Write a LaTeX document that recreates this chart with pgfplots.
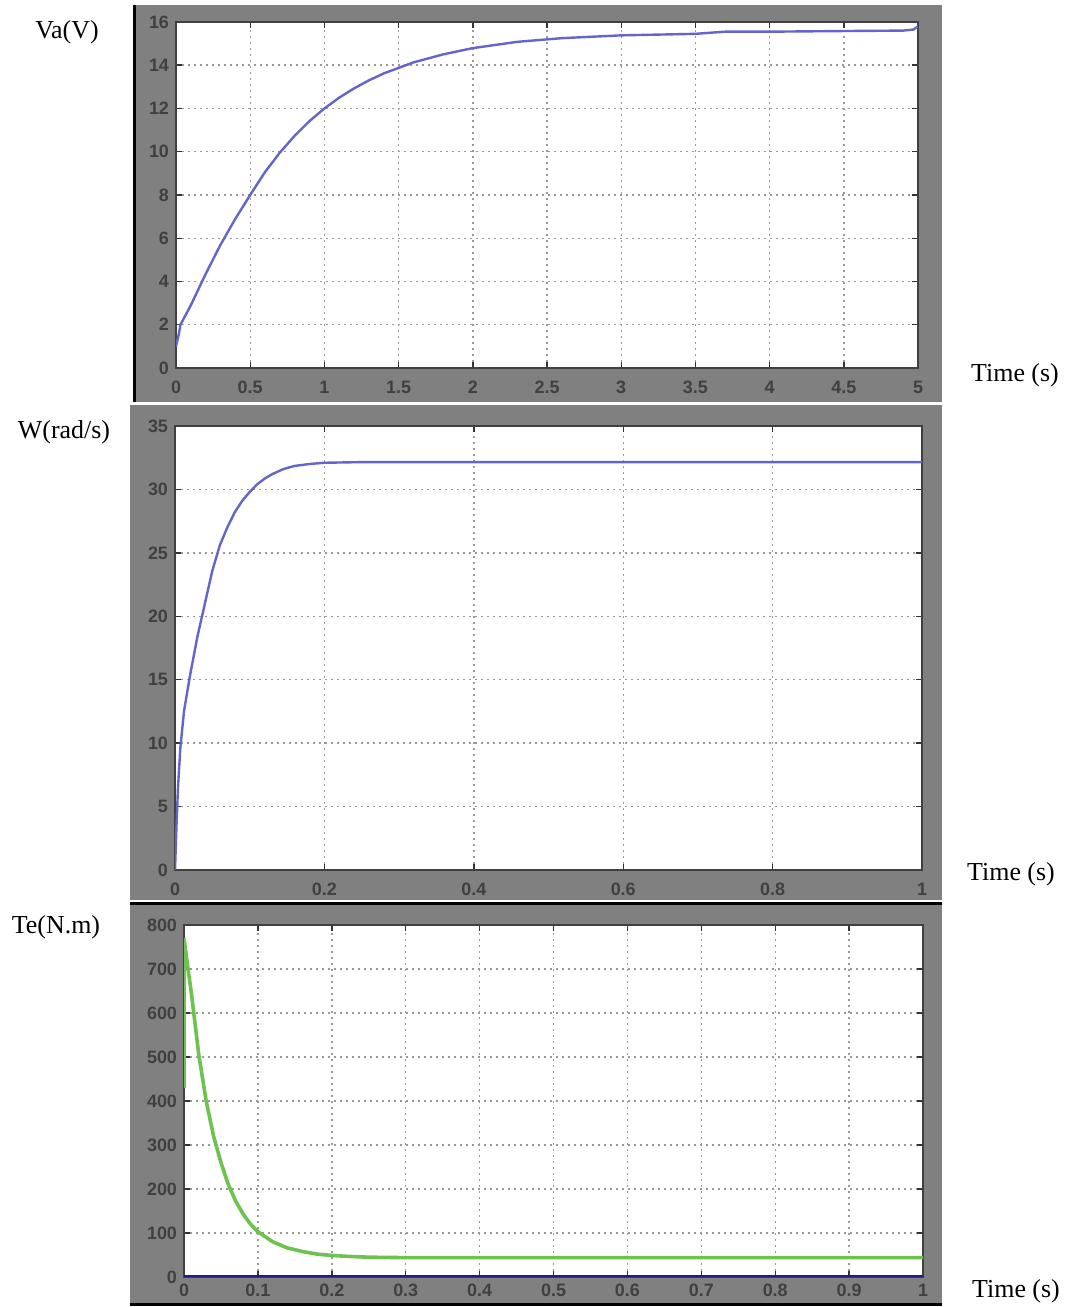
\documentclass[border=0pt]{standalone}
\usepackage{fontspec}
\setmainfont{Liberation Serif}
\newfontfamily\tickfont{Liberation Sans}
\usepackage{pgfplots}
\pgfplotsset{compat=1.18}

\definecolor{scopegray}{RGB}{128,128,128}
\definecolor{vblue}{RGB}{100,100,205}
\definecolor{tgreen}{RGB}{110,195,80}
\definecolor{navy0}{RGB}{30,30,130}

\pgfplotsset{
  scope/.style={
    scale only axis,
    anchor=south west,
    axis background/.style={fill=white},
    axis line style={draw=black!75, line width=1bp},
    grid=major,
    grid style={gray!80, line width=0.7bp, dash pattern=on 1.2bp off 1.8bp},
    tick style={black!80, line width=0.7bp},
    major tick length=3bp,
    tick label style={font=\tickfont\bfseries\fontsize{9}{10}\selectfont, text=black!75},
    /pgf/number format/assume math mode=true,
  },
}

\begin{document}
% picture units: 1 unit = one pixel of the 1065x1307 reference, y upward
\begin{tikzpicture}[x=0.5bp, y=0.5bp]
\useasboundingbox (0,0) rectangle (1065,1307);

% grey scope panels
\fill[scopegray] (135,905) rectangle (942,1302);
\fill[scopegray] (130,407) rectangle (942,902);
\fill[scopegray] (130,2) rectangle (942,402);
\draw[black, line width=1.5bp] (134.5,905) -- (134.5,1302);
\draw[black, line width=1.2bp] (130,403.5) -- (942,403.5);
\draw[black, line width=1.2bp] (130,2.5) -- (942,2.5);

% Va(V)
\begin{axis}[scope,
  at={(88bp,469.5bp)}, width=371bp, height=173bp,
  xmin=0, xmax=5, ymin=0, ymax=16,
  xtick={0,0.5,1,1.5,2,2.5,3,3.5,4,4.5,5},
  xticklabels={0,0.5,1,1.5,2,2.5,3,3.5,4,4.5,5},
  xticklabel style={yshift=-3bp},
  ytick={0,2,4,6,8,10,12,14,16},
]
\addplot[vblue, line width=1.2bp] coordinates {
  (0,1.0) (0.02,1.6) (0.03,2.0) (0.1,2.9) (0.2,4.35) (0.3,5.7) (0.4,6.9)
  (0.5,8.0) (0.6,9.06) (0.7,9.96) (0.8,10.74) (0.9,11.42) (1.0,12.0)
  (1.1,12.5) (1.2,12.93) (1.3,13.3) (1.4,13.62) (1.6,14.13) (1.8,14.5)
  (2.0,14.79) (2.3,15.08) (2.6,15.25) (3.0,15.38) (3.5,15.45) (3.7,15.55)
  (4.0,15.55) (4.5,15.58) (4.9,15.6) (4.97,15.65) (5.0,15.8)
};
\end{axis}

% W(rad/s)
\begin{axis}[scope,
  at={(87.5bp,218.5bp)}, width=373.5bp, height=222bp,
  xmin=0, xmax=1, ymin=0, ymax=35,
  xtick={0,0.2,0.4,0.6,0.8,1},
  xticklabels={0,0.2,0.4,0.6,0.8,1},
  xticklabel style={yshift=-3bp},
  ytick={0,5,10,15,20,25,30,35},
]
\addplot[vblue, line width=1.2bp] coordinates {
  (0,0) (0.002,3.5) (0.004,6.5) (0.007,9.5) (0.012,12.5) (0.02,15.3)
  (0.03,18.4) (0.04,21.0) (0.05,23.6) (0.06,25.6) (0.07,27.0) (0.08,28.2)
  (0.09,29.1) (0.1,29.8) (0.11,30.4) (0.12,30.85) (0.13,31.2)
  (0.145,31.6) (0.16,31.85) (0.18,32.0) (0.2,32.1) (0.25,32.15) (1,32.15)
};
\end{axis}

% Te(N.m)
\begin{axis}[scope,
  at={(92bp,15bp)}, width=369.5bp, height=176bp,
  xmin=0, xmax=1, ymin=0, ymax=800,
  xtick={0,0.1,0.2,0.3,0.4,0.5,0.6,0.7,0.8,0.9,1},
  xticklabels={0,0.1,0.2,0.3,0.4,0.5,0.6,0.7,0.8,0.9,1},
  ytick={0,100,200,300,400,500,600,700,800},
]
\addplot[tgreen, line width=2bp] coordinates {(0,430) (0,770)};
\addplot[tgreen, line width=1.8bp] coordinates {
  (0,770) (0.005,705) (0.01,645) (0.02,505) (0.03,400) (0.04,320)
  (0.05,260) (0.06,210) (0.07,172) (0.08,143) (0.09,120) (0.1,103)
  (0.12,80) (0.14,66) (0.16,58) (0.18,52) (0.2,49) (0.22,47) (0.25,45)
  (0.3,44) (1,44)
};
\addplot[navy0, line width=1.5bp] coordinates {(0,0) (1,0)};
\end{axis}

% side labels
\node[font=\fontsize{13}{15}\selectfont] at (67,1275) {Va(V)};
\node[font=\fontsize{13}{15}\selectfont] at (64,875) {W(rad/s)};
\node[font=\fontsize{13}{15}\selectfont] at (56,380) {Te(N.m)};
\node[font=\fontsize{13}{15}\selectfont] at (1015,932) {Time (s)};
\node[font=\fontsize{13}{15}\selectfont] at (1011,433) {Time (s)};
\node[font=\fontsize{13}{15}\selectfont] at (1016,16) {Time (s)};
\end{tikzpicture}
\end{document}
